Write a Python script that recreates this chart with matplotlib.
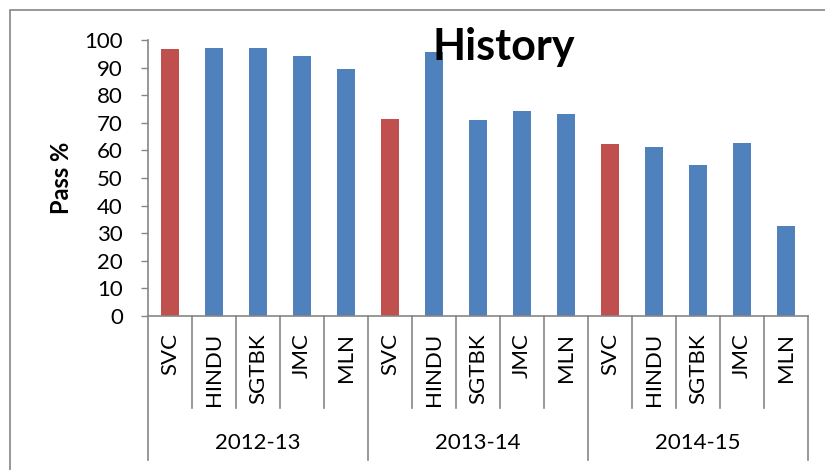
import matplotlib
matplotlib.use("Agg")
import matplotlib.pyplot as plt
import matplotlib.patches as patches
import matplotlib.transforms as transforms
import numpy as np

matplotlib.rcParams.update({
    'font.family': ['Lato', 'DejaVu Sans'],
})

years = ['2012-13', '2013-14', '2014-15']
colleges = ['SVC', 'HINDU', 'SGTBK', 'JMC', 'MLN']
pass_2012 = [96.7, 97.0, 97.1, 94.2, 89.5]
pass_2013 = [71.4, 95.8, 71.0, 74.4, 73.3]
pass_2014 = [62.3, 61.1, 54.6, 62.8, 32.6]

red = '#C0504D'
blue = '#4F81BD'
grey = '#868686'

values = pass_2012 + pass_2013 + pass_2014
labels = colleges * len(years)
colors = [red if c == 'SVC' else blue for c in labels]
x = np.arange(len(values))

fig = plt.figure(figsize=(8.25, 4.7), dpi=100)
ax = fig.add_axes([148/825, 1-316/470, 660/825, 276/470])

ax.bar(x, values, width=0.41, color=colors, edgecolor='none')
ax.set_xlim(-0.5, len(values)-0.5)
ax.set_ylim(0, 100)
ax.set_yticks(np.arange(0, 101, 10))
ax.set_xticks([])
ax.tick_params(axis='y', length=5, width=1, color=grey, pad=13, labelsize=16)
for s in ['top', 'right']:
    ax.spines[s].set_visible(False)
for s in ['left', 'bottom']:
    ax.spines[s].set_color(grey)
    ax.spines[s].set_linewidth(1.2)
ax.set_ylabel('Pass %', fontsize=17, fontweight='bold', labelpad=8)

# category axis: separators + rotated labels + group labels
tr = transforms.blended_transform_factory(ax.transData, ax.transAxes)
for i in range(len(values)+1):
    xe = i - 0.5
    if i % len(colleges) == 0:
        ybot = -0.522
    else:
        ybot = -0.333
    ax.plot([xe, xe], [0, ybot], color=grey, lw=1.2, transform=tr, clip_on=False)
for xi, lab in zip(x, labels):
    ax.text(xi, -0.062, lab, rotation=90, ha='center', va='top', fontsize=16, transform=tr)
for j, yr in enumerate(years):
    xc = j*len(colleges) + (len(colleges)-1)/2
    ax.text(xc, -0.46, yr, ha='center', va='center', fontsize=16, transform=tr)

fig.text(504/825, 1-60/470, 'History', ha='center', va='baseline', fontsize=31, fontweight='bold')

# outer frame of the chart area
fig.patches.append(patches.Rectangle((10/825, -0.05), 1.1, 1-10/470+0.05, transform=fig.transFigure,
                                     fill=False, edgecolor=grey, lw=1.2))

plt.savefig('out.png', dpi=100)
